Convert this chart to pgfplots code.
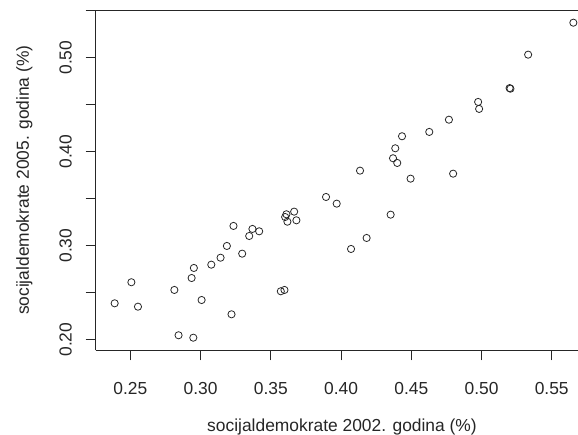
\documentclass[border=0pt]{standalone}
\usepackage{fontspec}
\setmainfont{Liberation Sans}
\usepackage{pgfplots}
\pgfplotsset{compat=1.18}

\begin{document}
\begin{tikzpicture}
% page = 578 x 434 (1px = 1pt); axis box lower-left at origin
\useasboundingbox (-95.7pt,-83.7pt) rectangle (482.3pt,350.3pt);
\begin{axis}[
  at={(0pt,0pt)}, anchor=south west,
  scale only axis,
  width=482.3pt, height=340.2pt,
  xmin=0.2253, xmax=0.5687,
  ymin=0.1887, ymax=0.5506,
  axis y line*=left,
  axis line style={black!85, line width=0.9pt},
  xtick pos=bottom, ytick pos=left,
  tick align=outside,
  major tick length=10pt,
  tick style={black!85, line width=0.9pt},
  xtick={0.25,0.30,0.35,0.40,0.45,0.50,0.55},
  xticklabels={0.25,0.30,0.35,0.40,0.45,0.50,0.55},
  ytick={0.20,0.25,0.30,0.35,0.40,0.45,0.50,0.55},
  yticklabels={0.20,,0.30,,0.40,,0.50,},
  tick label style={font=\fontsize{17.4pt}{20pt}\selectfont, text=black!85},
  xticklabel style={anchor=base, yshift=-34pt},
  yticklabel style={xshift=-14pt, rotate=90, anchor=base},
  label style={font=\fontsize{17.4pt}{20pt}\selectfont, text=black!85},
  xlabel={socijaldemokrate 2002. godina (\%)},
  ylabel={socijaldemokrate 2005. godina (\%)},
  xlabel style={at={(axis description cs:0.5107,-0.2381)}, anchor=base},
  ylabel style={at={(axis description cs:-0.1383,0.5)}, anchor=base},
  clip=false,
]
\addplot[only marks, mark=o, mark size=3.6pt, black!85,
  mark options={line width=0.8pt}] coordinates {
  (0.2388,0.2387) (0.2507,0.2611) (0.2554,0.2351) (0.2813,0.2529)
  (0.2843,0.2047) (0.2936,0.2656) (0.2952,0.2763) (0.2948,0.2021)
  (0.3007,0.2422) (0.3076,0.2798) (0.3142,0.2872) (0.3187,0.2997)
  (0.3220,0.2270) (0.3234,0.3210) (0.3296,0.2915) (0.3346,0.3103)
  (0.3369,0.3178) (0.3417,0.3153) (0.3571,0.2515) (0.3597,0.2529)
  (0.3602,0.3305) (0.3611,0.3334) (0.3618,0.3255) (0.3666,0.3362)
  (0.3682,0.3270) (0.3893,0.3518) (0.3969,0.3447) (0.4071,0.2965)
  (0.4182,0.3082) (0.4135,0.3798) (0.4353,0.3330) (0.4370,0.3930)
  (0.4400,0.3880) (0.4386,0.4036) (0.4434,0.4164) (0.4495,0.3713)
  (0.4798,0.3766) (0.4628,0.4210) (0.4768,0.4340) (0.4976,0.4529)
  (0.4983,0.4455) (0.5200,0.4676) (0.5206,0.4670) (0.5332,0.5032)
  (0.5654,0.5372)
};
\end{axis}
\end{tikzpicture}
\end{document}
